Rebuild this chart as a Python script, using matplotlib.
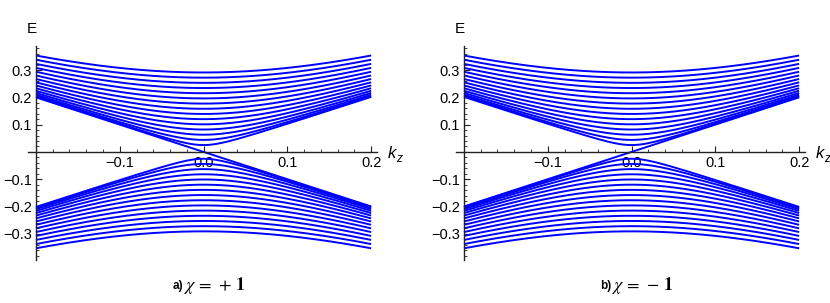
import numpy as np
import matplotlib
matplotlib.use("Agg")
import matplotlib.pyplot as plt
from matplotlib.ticker import FixedLocator

# ---- data ----
kz = np.linspace(-0.2, 0.2, 401)                       # momentum grid
# band-edge energies (E at kz = 0) of the gapped levels
level_gaps = [0.025, 0.044, 0.063, 0.082, 0.101, 0.120, 0.139, 0.158,
              0.177, 0.196, 0.215, 0.234, 0.253, 0.272, 0.291]
chiralities = [+1, -1]
captions = ["a)", "b)"]
caption_math = [r"$\chi\,=\,+\,\mathbf{1}$", r"$\chi\,=\,-\,\mathbf{1}$"]
xtick_vals = [-0.1, 0.0, 0.1, 0.2]
xtick_labels = ["\u22120.1", "0.0", "0.1", "0.2"]
ytick_vals = [-0.3, -0.2, -0.1, 0.1, 0.2, 0.3]
ytick_labels = ["\u22120.3", "\u22120.2", "\u22120.1", "0.1", "0.2", "0.3"]
xminor = [-0.18, -0.16, -0.14, -0.12, -0.08, -0.06, -0.04, -0.02,
          0.02, 0.04, 0.06, 0.08, 0.12, 0.14, 0.16, 0.18]
yminor = [-0.38, -0.36, -0.34, -0.32, -0.28, -0.26, -0.24, -0.22, -0.18, -0.16,
          -0.14, -0.12, -0.08, -0.06, -0.04, -0.02, 0.02, 0.04, 0.06, 0.08,
          0.12, 0.14, 0.16, 0.18, 0.22, 0.24, 0.26, 0.28, 0.32, 0.34, 0.36, 0.38]

W, H = 830, 303
fig = plt.figure(figsize=(W / 100, H / 100), dpi=100)
plt.rcParams['mathtext.fontset'] = 'stix'

axis_col = '#222222'
blue = (0, 0, 1)
lefts = [28, 456]
for i, chi in enumerate(chiralities):
    ax = fig.add_axes([lefts[i] / W, (H - 260) / H, 349 / W, 214 / H])
    ax.set_xlim(-0.2095, 0.207)
    ax.set_ylim(-0.396, 0.388)
    for d in level_gaps:
        e = np.sqrt(kz ** 2 + d ** 2)
        ax.plot(kz, e, color=blue, lw=1.4, solid_capstyle='butt')
        ax.plot(kz, -e, color=blue, lw=1.4, solid_capstyle='butt')
    ax.plot(kz, -chi * kz, color=blue, lw=1.4, solid_capstyle='butt')

    for s in ['top', 'right']:
        ax.spines[s].set_visible(False)
    ax.spines['left'].set_position(('data', -0.2))
    ax.spines['bottom'].set_position(('data', 0.0))
    for s in ['left', 'bottom']:
        ax.spines[s].set_color(axis_col)
        ax.spines[s].set_linewidth(1.0)
    ax.xaxis.set_major_locator(FixedLocator(xtick_vals))
    ax.set_xticklabels(xtick_labels)
    ax.xaxis.set_minor_locator(FixedLocator(xminor))
    ax.yaxis.set_major_locator(FixedLocator(ytick_vals))
    ax.set_yticklabels(ytick_labels)
    ax.yaxis.set_minor_locator(FixedLocator(yminor))
    ax.tick_params(which='major', direction='in', length=4.5, width=0.8, color=axis_col,
                   labelsize=10.5, labelcolor='black', pad=3)
    ax.tick_params(which='minor', direction='in', length=2.5, width=0.6, color=axis_col)
    for lab in ax.get_xticklabels() + ax.get_yticklabels():
        lab.set_family('Liberation Sans')

    x0 = lefts[i] - 28
    fig.text((x0 + 32) / W, 1 - 29 / H, "E", ha='center', va='center',
             fontsize=11, family='Liberation Sans')
    fig.text((x0 + 388) / W, 1 - 154 / H, "k", ha='left', va='center', fontsize=12,
             style='italic', family='Liberation Sans')
    fig.text((x0 + 396) / W, 1 - 159 / H, "z", ha='left', va='center', fontsize=8.5,
             style='italic', family='Liberation Sans')
    fig.text((x0 + 183) / W, 1 - 286 / H, captions[i], ha='right', va='center',
             fontsize=8.5, fontweight='bold', family='Liberation Sans')
    fig.text((x0 + 184) / W, 1 - 285 / H, caption_math[i], ha='left', va='center',
             fontsize=13)

fig.savefig("out.png", dpi=100)
